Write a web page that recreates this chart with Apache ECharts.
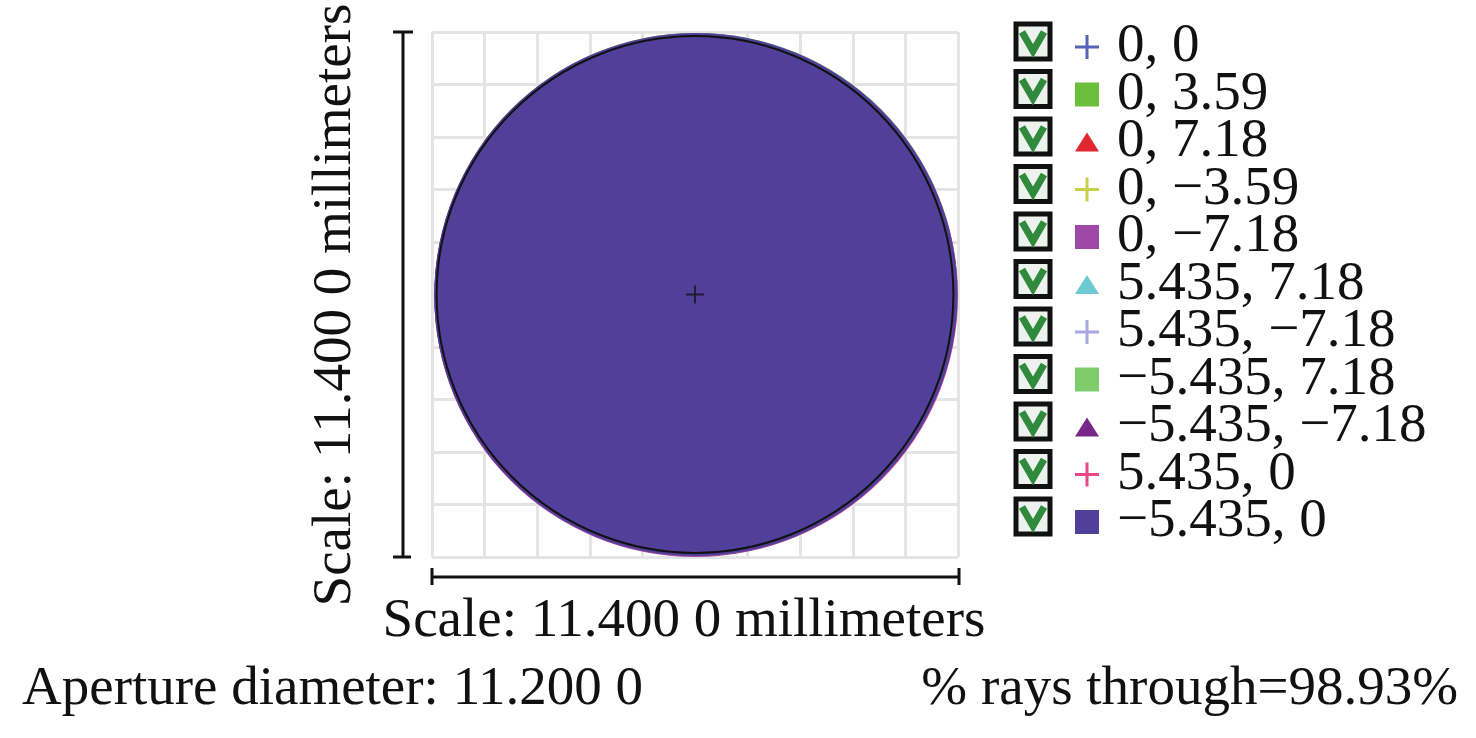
<!DOCTYPE html>
<html>
<head>
<meta charset="utf-8">
<script src="https://cdn.jsdelivr.net/npm/echarts@6/dist/echarts.min.js"></script>
<style>
html,body{margin:0;padding:0;background:#fff;}
#chart{width:1476px;height:738px;}
</style>
</head>
<body>
<div id="chart"></div>
<script>
// ---- data ----
const scaleMm = 11.4;            // full width/height of the plot (mm)
const gridDivisions = 10;
const apertureDiameter = 11.2;
const scaleLabel = 'Scale: 11.400 0 millimeters';
const apertureLabel = 'Aperture diameter: 11.200 0';
const raysLabel = '% rays through=98.93%';

const fieldNames = ['0, 0', '0, 3.59', '0, 7.18', '0, \u22123.59', '0, \u22127.18',
  '5.435, 7.18', '5.435, \u22127.18', '\u22125.435, 7.18', '\u22125.435, \u22127.18',
  '5.435, 0', '\u22125.435, 0'];
// footprint centre and radius of each field on the surface (mm)
const footprintX = [0.00, 0.01, 0.00, 0.00, 0.00, 0.03, 0.03, 0.04, -0.02, 0.05, 0.02];
const footprintY = [0.00, 0.03, 0.02, -0.02, -0.04, 0.02, -0.02, 0.02, -0.03, -0.02, 0.00];
const footprintR = [5.64, 5.64, 5.63, 5.63, 5.65, 5.63, 5.63, 5.65, 5.63, 5.65, 5.67];
const chiefRay = [[0, 0]];

// ---- styles ----
const fieldColors = ['#5563b8', '#6cbf3c', '#e0262e', '#c8cf4a', '#9e48a8', '#6ccad0',
  '#aaa8e0', '#7ecc6c', '#7a2888', '#e8488a', '#50409a'];
const PLUS = 'path://M10.5,0h3v10.5h10.5v3h-10.5v10.5h-3v-10.5h-10.5v-3h10.5z';
const SQUARE = 'path://M0,0h22v22h-22z';
const TRI = 'path://M12,0L24,19L0,19Z';
const fieldIcons = [PLUS, SQUARE, TRI, PLUS, SQUARE, TRI, PLUS, SQUARE, TRI, PLUS, SQUARE];
const FONT = '"Liberation Serif", "Times New Roman", serif';

const chart = echarts.init(document.getElementById('chart'), null, {renderer: 'canvas'});
const half = scaleMm / 2;
const step = scaleMm / gridDivisions;

const axisCommon = {
  type: 'value', min: -half, max: half, interval: step,
  axisLine: {show: false}, axisTick: {show: false}, axisLabel: {show: false},
  splitLine: {show: true, lineStyle: {color: '#e4e4e4', width: 3}}
};

const seriesList = fieldNames.map((name, i) => ({
  type: 'custom', name: name, z: 2 + i * 0.01,
  data: [[footprintX[i], footprintY[i], footprintR[i]]],
  encode: {x: 0, y: 1},
  itemStyle: {color: fieldColors[i]},
  renderItem: function (params, api) {
    const c = api.coord([api.value(0), api.value(1)]);
    const s = api.size([api.value(2), api.value(2)]);
    return {type: 'circle', shape: {cx: c[0], cy: c[1], r: s[0]},
      style: {fill: fieldColors[i], stroke: null}};
  }
}));
seriesList.push({
  type: 'custom', name: 'aperture', z: 5,
  data: [[0, 0, apertureDiameter / 2]], encode: {x: 0, y: 1},
  renderItem: function (params, api) {
    const c = api.coord([api.value(0), api.value(1)]);
    const s = api.size([api.value(2), api.value(2)]);
    return {type: 'circle', shape: {cx: c[0], cy: c[1], r: s[0]},
      style: {fill: 'none', stroke: '#111', lineWidth: 2}};
  }
});
seriesList.push({
  type: 'scatter', name: 'chief', z: 6, data: chiefRay,
  symbol: 'path://M9,0h2v9h9v2h-9v9h-2v-9h-9v-2h9z', symbolSize: 18,
  itemStyle: {color: '#111'}, silent: true
});

const rowCenter0 = 42, rowStep = 47.5, legendFont = 55;

chart.setOption({
  animation: false,
  backgroundColor: '#fff',
  grid: {left: 432, top: 32, width: 526, height: 525},
  xAxis: axisCommon,
  yAxis: axisCommon,
  legend: {
    orient: 'vertical', left: 1070, top: rowCenter0 - legendFont / 2,
    itemGap: rowStep - legendFont, itemWidth: 24, itemHeight: 24,
    data: fieldNames.map((n, i) => ({name: n, icon: fieldIcons[i], itemStyle: {color: fieldColors[i]}})),
    textStyle: {fontFamily: FONT, fontSize: legendFont, color: '#111', padding: [0, 0, 0, 13]}
  },
  series: seriesList
});

// decorations derived from the axes
const p0 = chart.convertToPixel({gridIndex: 0}, [-half, -half]);
const p1 = chart.convertToPixel({gridIndex: 0}, [half, half]);
const gLeft = p0[0], gRight = p1[0], gBottom = p0[1], gTop = p1[1];
const vx = gLeft - 29, hy = gBottom + 20;
const g = [];
const blk = {stroke: '#111', lineWidth: 3};
g.push({type: 'line', shape: {x1: vx, y1: gTop, x2: vx, y2: gBottom}, style: blk});
g.push({type: 'line', shape: {x1: vx - 10, y1: gTop, x2: vx + 10, y2: gTop}, style: blk});
g.push({type: 'line', shape: {x1: vx - 10, y1: gBottom, x2: vx + 8, y2: gBottom}, style: blk});
g.push({type: 'line', shape: {x1: gLeft, y1: hy, x2: gRight + 1, y2: hy}, style: blk});
g.push({type: 'line', shape: {x1: gLeft, y1: hy - 9, x2: gLeft, y2: hy + 8}, style: blk});
g.push({type: 'line', shape: {x1: gRight + 1, y1: hy - 9, x2: gRight + 1, y2: hy + 8}, style: blk});

g.push({type: 'text', x: 336, y: 305, rotation: Math.PI / 2,
  style: {text: scaleLabel, font: '55px ' + FONT, fill: '#111', align: 'center', verticalAlign: 'middle'}});
g.push({type: 'text', x: 684, y: 622,
  style: {text: scaleLabel, font: '55px ' + FONT, fill: '#111', align: 'center', verticalAlign: 'middle'}});
g.push({type: 'text', x: 22, y: 690,
  style: {text: apertureLabel, font: '55px ' + FONT, fill: '#111', align: 'left', verticalAlign: 'middle'}});
g.push({type: 'text', x: 1458, y: 690,
  style: {text: raysLabel, font: '55px ' + FONT, fill: '#111', align: 'right', verticalAlign: 'middle'}});

fieldNames.forEach((n, i) => {
  const cy = rowCenter0 + i * rowStep;
  g.push({type: 'rect', shape: {x: 1016, y: cy - 18, width: 34, height: 35},
    style: {fill: '#eef2ee', stroke: '#111', lineWidth: 5}});
  g.push({type: 'polyline', shape: {points: [[1022, cy - 10], [1033, cy + 9], [1044, cy - 10]]},
    style: {fill: null, stroke: '#2f8a3c', lineWidth: 7}});
});

chart.setOption({graphic: g});
</script>
</body>
</html>
